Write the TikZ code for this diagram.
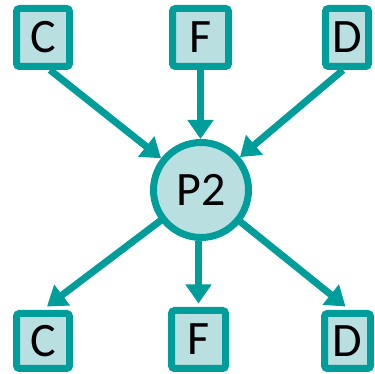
\documentclass[tikz,border=0pt]{standalone}
\usepackage{fontspec}
\setmainfont{Carlito}
\usetikzlibrary{arrows.meta,backgrounds}
\definecolor{teal1}{RGB}{0,157,154}
\definecolor{fill1}{RGB}{186,223,225}
\begin{document}
\begin{tikzpicture}[x=1pt,y=1pt,
  box/.style={draw=teal1,fill=fill1,line width=7pt,rounded corners=3pt,inner sep=0pt,font=\fontsize{48}{48}\selectfont},
  hub/.style={draw=teal1,fill=fill1,line width=7pt,circle,inner sep=0pt,minimum size=95pt,font=\fontsize{48}{48}\selectfont},
  conn/.style={draw=teal1,line width=7pt,-{Triangle[width=25pt,length=19pt]}}]
\useasboundingbox (0,0) rectangle (374,374);
\node[box,minimum width=53pt,minimum height=58pt] (c1) at (43,336.5) {C};
\node[box,minimum width=56pt,minimum height=58pt] (f1) at (200.5,336.5) {F};
\node[box,minimum width=43pt,minimum height=58pt] (d1) at (347,336.5) {D};
\node[hub] (p) at (201,184) {P2};
\node[box,minimum width=53pt,minimum height=55pt] (c2) at (43,33) {C};
\node[box,minimum width=54pt,minimum height=58pt] (f2) at (198.5,34.5) {F};
\node[box,minimum width=46pt,minimum height=55pt] (d2) at (347.5,33) {D};
\coordinate (c1s) at ([xshift=7pt]c1.south);
\coordinate (d1s) at ([xshift=-4pt]d1.south);
\coordinate (c2n) at ([xshift=4pt,yshift=3.5pt]c2.north);
\coordinate (d2n) at ([xshift=-2pt,yshift=3.5pt]d2.north);
\begin{scope}[on background layer]
\draw[conn] (c1s) -- (p);
\draw[conn] (f1.south) -- (f1.south|-p.north);
\draw[conn] (d1s) -- (p);
\draw[conn] (p.center) -- (c2n);
\draw[conn] (p.south-|f2.north) -- ([yshift=3.5pt]f2.north);
\draw[conn] (p.center) -- (d2n);
\end{scope}
\end{tikzpicture}
\end{document}
